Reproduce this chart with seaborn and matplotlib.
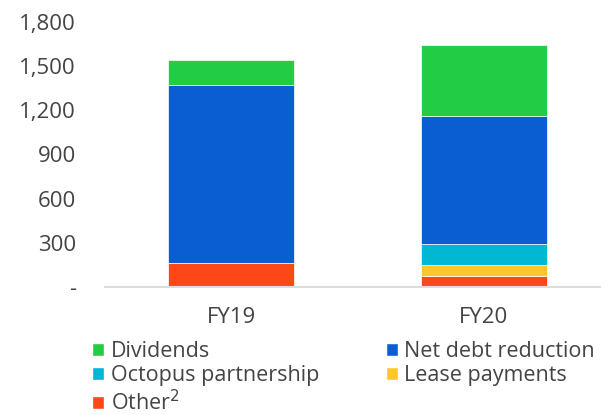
import matplotlib
matplotlib.use("Agg")
import matplotlib.pyplot as plt
import matplotlib.ticker as mticker
from matplotlib.patches import Patch
import seaborn as sns

years = ["FY19", "FY20"]
other = [163, 79]
lease = [0, 72]
octopus = [0, 144]
net_debt = [1209, 867]
dividends = [165, 481]

layers = [
    ("Other$^2$", other, "#FC4819"),
    ("Lease payments", lease, "#FFC62B"),
    ("Octopus partnership", octopus, "#00B8D4"),
    ("Net debt reduction", net_debt, "#0A5ED1"),
    ("Dividends", dividends, "#22CC44"),
]

sns.set_style("white")
plt.rcParams["font.family"] = ["Open Sans", "DejaVu Sans"]
text_col = "#444444"

fig = plt.figure(figsize=(6.07, 4.15), dpi=100)
ax = fig.add_axes([0.173, 0.308, 0.815, 0.640])

bottom = [0, 0]
for name, vals, col in layers:
    sns.barplot(x=years, y=vals, bottom=bottom, color=col, width=0.5,
                saturation=1, edgecolor="white", linewidth=0.5, ax=ax)
    bottom = [b + v for b, v in zip(bottom, vals)]

ax.set_ylim(0, 1800)
ax.set_xlim(-0.5, 1.46)
ax.set_yticks(range(0, 1801, 300))
ax.yaxis.set_major_formatter(mticker.FuncFormatter(
    lambda v, p: "-" if v == 0 else f"{int(v):,}"))
ax.tick_params(axis="both", length=0, labelsize=16, labelcolor=text_col)
ax.tick_params(axis="y", pad=21)
ax.tick_params(axis="x", pad=14)
for s in ["left", "right", "top"]:
    ax.spines[s].set_visible(False)
ax.spines["bottom"].set_color("#DDDDDD")
ax.spines["bottom"].set_linewidth(1.5)
ax.set_xlabel("")
ax.set_ylabel("")

colors = {n: c for n, _, c in layers}
order = ["Dividends", "Octopus partnership", "Other$^2$",
         "Net debt reduction", "Lease payments"]
handles = [Patch(facecolor=colors[n], label=n) for n in order]
leg = fig.legend(handles=handles, loc="upper left", ncol=2,
                 bbox_to_anchor=(0.152, 0.178), frameon=False,
                 fontsize=15.5, handlelength=0.55, handleheight=0.55,
                 handletextpad=0.3, columnspacing=3.1, labelspacing=0.15,
                 borderaxespad=0, borderpad=0)
for t in leg.get_texts():
    t.set_color(text_col)

fig.savefig("out.png", dpi=100)
